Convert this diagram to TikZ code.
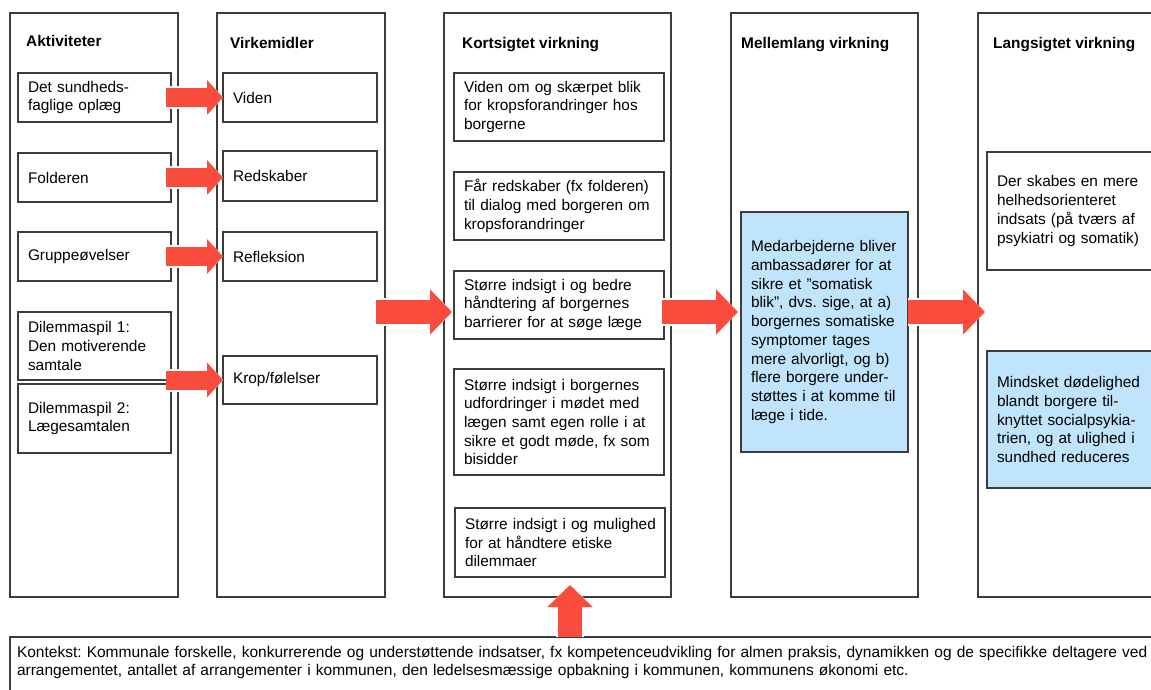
\documentclass[tikz,border=0pt]{standalone}
\usepackage{fontspec}
\setmainfont{Liberation Sans}
\usepackage{tikz}
\usetikzlibrary{arrows.meta}
\frenchspacing
\definecolor{boxgray}{RGB}{60,60,60}
\definecolor{arrowred}{RGB}{249,76,60}
\definecolor{effectblue}{RGB}{191,228,252}
\newcommand{\itemfont}{\fontsize{15.4}{18.7}\selectfont}
\newcommand{\headfont}{\bfseries\fontsize{15.4}{18}\selectfont}
\newcommand{\contextfont}{\fontsize{15.5}{17.8}\selectfont}
\tikzset{%
    column/.style={draw=boxgray, line width=1.2pt, anchor=north west,
        minimum width=#1, minimum height=584pt, inner sep=0pt, outer sep=0pt},
    item/.style 2 args={draw=boxgray, line width=1.1pt, fill=white, anchor=north west,
        text width=#1-20pt, minimum height=#2, align=left, inner xsep=10pt,
        inner ysep=0pt, outer sep=0pt, font=\itemfont,
        execute at begin node={\rightskip=-20pt plus 1fil\relax}},
    blueitem/.style 2 args={item={#1}{#2}, fill=effectblue},
    heading/.style={anchor=base west, inner sep=0pt, font=\headfont},
    context/.style={draw=boxgray, line width=1.1pt, fill=white, anchor=north west,
        text width=1150pt, text depth=50pt, align=left, inner xsep=7pt,
        inner ysep=9.5pt, outer sep=0pt, font=\contextfont,
        execute at begin node={\rightskip=-20pt plus 1fil\relax}},
    fatarrow/.style={draw=arrowred, line width=19pt, -{Triangle[length=16pt,width=34pt]},
        preaction={draw=white, line width=23pt, -{Triangle[length=18pt,width=40pt]}}},
    bigarrow/.style={draw=arrowred, line width=24pt, -{Triangle[length=22pt,width=44pt]},
        preaction={draw=white, line width=28pt, -{Triangle[length=24pt,width=50pt]}}}
}
\begin{document}
\begin{tikzpicture}[x=1pt, y=-1pt]
    \useasboundingbox (0,0) rectangle (1151,690);
    \clip (0,0) rectangle (1151,690);
    % columns
    \node[column=168pt] (akt) at (10,13) {};
    \node[column=168pt] (virk) at (217,13) {};
    \node[column=227pt] (kort) at (444,13) {};
    \node[column=187pt] (mellem) at (731,13) {};
    \node[column=187pt] (lang) at (978,13) {};
    \node[heading] (aktTitle) at (26,47) {Aktiviteter};
    \node[heading] (virkTitle) at (230,49) {Virkemidler};
    \node[heading] (kortTitle) at (462,49) {Kortsigtet virkning};
    \node[heading] (mellemTitle) at (741,48.5) {Mellemlang virkning};
    \node[heading] (langTitle) at (993,49) {Langsigtet virkning};
    % aktiviteter
    \node[item={153pt}{49pt}] (oplaeg) at (18,73) {Det sundheds-\\faglige oplæg};
    \node[item={153pt}{49pt}] (folder) at (18,153) {Folderen};
    \node[item={153pt}{49pt}] (gruppe) at (18,232) {Gruppeøvelser};
    \node[item={153pt}{68pt}] (dilemA) at (18,312) {Dilemmaspil 1:\\Den motiverende\\samtale};
    \node[item={153pt}{69pt}] (dilemB) at (18,384) {Dilemmaspil 2:\\Lægesamtalen};
    % virkemidler
    \node[item={154pt}{49pt}] (viden) at (223,73) {Viden};
    \node[item={154pt}{50pt}] (redskab) at (223,151) {Redskaber};
    \node[item={154pt}{49pt}] (reflek) at (223,232) {Refleksion};
    \node[item={154pt}{48pt}] (krop) at (223,356) {Krop/følelser};
    % kortsigtet
    \node[item={210pt}{68pt}] (kortA) at (454,73) {Viden om og skærpet blik\\for kropsforandringer hos\\borgerne};
    \node[item={210pt}{68pt}] (kortB) at (454,172) {Får redskaber (fx folderen)\\til dialog med borgeren om\\kropsforandringer};
    \node[item={210pt}{68pt}] (kortC) at (454,271) {Større indsigt i og bedre\\håndtering af borgernes\\barrierer for at søge læge};
    \node[item={210pt}{106pt}] (kortD) at (454,369) {Større indsigt i borgernes\\udfordringer i mødet med\\lægen samt egen rolle i at\\sikre et godt møde, fx som\\bisidder};
    \node[item={210pt}{69pt}] (kortE) at (455,508) {Større indsigt i og mulighed\\for at håndtere etiske\\dilemmaer};
    % mellemlang og langsigtet
    \node[blueitem={167pt}{240pt}] (mellemA) at (741,212) {Medarbejderne bliver\\ambassadører for at\\sikre et ”somatisk\\blik”, dvs. sige, at a)\\borgernes somatiske\\symptomer tages\\mere alvorligt, og b)\\flere borgere under-\\støttes i at komme til\\læge i tide.};
    \node[item={167pt}{118pt}] (langA) at (987,152) {Der skabes en mere\\helhedsorienteret\\indsats (på tværs af\\psykiatri og somatik)};
    \node[blueitem={167pt}{137pt}] (langB) at (987,351) {Mindsket dødelighed\\blandt borgere til-\\knyttet socialpsykia-\\trien, og at ulighed i\\sundhed reduceres};
    % kontekst
    \node[context] (kontekst) at (10,637) {Kontekst: Kommunale forskelle, konkurrerende og understøttende indsatser, fx kompetenceudvikling for almen praksis, dynamikken og de specifikke deltagere ved\\arrangementet, antallet af arrangementer i kommunen, den ledelsesmæssige opbakning i kommunen, kommunens økonomi etc.};
    % pile
    \coordinate (flow) at (0,312);
    \coordinate (upx) at (570,0);
    \draw[fatarrow, shorten <=-5pt] (oplaeg.east) -- (oplaeg.east -| viden.west);
    \draw[fatarrow, shorten <=-5pt] (folder.east) -- (folder.east -| redskab.west);
    \draw[fatarrow, shorten <=-5pt] (gruppe.east) -- (gruppe.east -| reflek.west);
    \draw[fatarrow, shorten <=-5pt] (krop.west -| dilemA.east) -- (krop.west);
    \draw[bigarrow, shorten <=-1pt, shorten >=2pt] (viden.east |- flow) -- (kortC.west |- flow);
    \draw[bigarrow, shorten <=-2pt, shorten >=3pt] (kortC.east |- flow) -- (mellemA.west |- flow);
    \draw[bigarrow, shorten >=2pt] (mellemA.east |- flow) -- (langA.west |- flow);
    \draw[bigarrow, shorten >=8pt] (kontekst.north -| upx) -- (kortE.south -| upx);
\end{tikzpicture}
\end{document}
